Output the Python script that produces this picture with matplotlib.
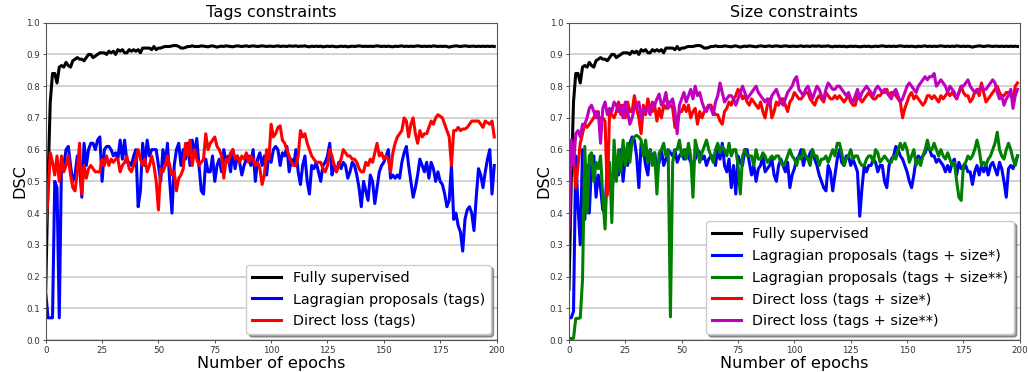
import matplotlib
matplotlib.use("Agg")
import matplotlib.pyplot as plt
import numpy as np

epochs = list(range(200))

fully_supervised = [
    0.16, 0.50, 0.75, 0.84, 0.84, 0.81, 0.86, 0.865, 0.86, 0.875,
    0.865, 0.86, 0.88, 0.885, 0.89, 0.885, 0.885, 0.88, 0.89, 0.90,
    0.90, 0.89, 0.895, 0.90, 0.905, 0.905, 0.905, 0.90, 0.91, 0.905,
    0.91, 0.90, 0.915, 0.91, 0.915, 0.905, 0.905, 0.915, 0.91, 0.915,
    0.91, 0.915, 0.905, 0.92, 0.92, 0.92, 0.92, 0.915, 0.925, 0.915,
    0.92, 0.92, 0.923, 0.925, 0.925, 0.925, 0.927, 0.928, 0.928, 0.925,
    0.92, 0.92, 0.922, 0.925, 0.925, 0.927, 0.925, 0.925, 0.925, 0.927,
    0.926, 0.925, 0.924, 0.926, 0.927, 0.925, 0.923, 0.925, 0.926, 0.925,
    0.927, 0.926, 0.925, 0.924, 0.926, 0.927, 0.926, 0.925, 0.926, 0.927,
    0.925, 0.926, 0.927, 0.926, 0.925, 0.926, 0.927, 0.926, 0.925, 0.926,
    0.926, 0.925, 0.926, 0.927, 0.925, 0.926, 0.926, 0.925, 0.927, 0.926,
    0.926, 0.927, 0.925, 0.926, 0.926, 0.927, 0.925, 0.924, 0.926, 0.925,
    0.926, 0.925, 0.926, 0.924, 0.925, 0.926, 0.925, 0.926, 0.925, 0.924,
    0.925, 0.926, 0.925, 0.926, 0.924, 0.925, 0.926, 0.925, 0.926, 0.927,
    0.926, 0.925, 0.926, 0.925, 0.926, 0.925, 0.926, 0.927, 0.926, 0.925,
    0.926, 0.925, 0.926, 0.925, 0.924, 0.926, 0.925, 0.926, 0.927, 0.925,
    0.926, 0.925, 0.926, 0.925, 0.926, 0.927, 0.926, 0.925, 0.926, 0.925,
    0.926, 0.925, 0.927, 0.926, 0.925, 0.926, 0.925, 0.926, 0.925, 0.923,
    0.925, 0.926, 0.927, 0.926, 0.925, 0.926, 0.927, 0.926, 0.925, 0.926,
    0.926, 0.925, 0.926, 0.925, 0.926, 0.925, 0.926, 0.925, 0.926, 0.925,
]

lagr_tags = [
    0.15, 0.07, 0.07, 0.07, 0.50, 0.48, 0.07, 0.57, 0.55, 0.60,
    0.61, 0.55, 0.50, 0.52, 0.58, 0.55, 0.45, 0.62, 0.55, 0.60,
    0.62, 0.62, 0.60, 0.63, 0.64, 0.50, 0.60, 0.61, 0.61, 0.60,
    0.58, 0.59, 0.57, 0.63, 0.57, 0.63, 0.56, 0.56, 0.55, 0.58,
    0.60, 0.42, 0.47, 0.62, 0.55, 0.63, 0.58, 0.60, 0.60, 0.60,
    0.55, 0.50, 0.60, 0.55, 0.62, 0.50, 0.40, 0.55, 0.60, 0.62,
    0.55, 0.60, 0.57, 0.62, 0.55, 0.63, 0.58, 0.635, 0.55, 0.47,
    0.46, 0.57, 0.53, 0.53, 0.58, 0.50, 0.55, 0.57, 0.53, 0.60,
    0.56, 0.58, 0.53, 0.60, 0.54, 0.58, 0.56, 0.52, 0.55, 0.57,
    0.58, 0.55, 0.60, 0.50, 0.57, 0.59, 0.55, 0.58, 0.52, 0.59,
    0.56, 0.60, 0.61, 0.60, 0.55, 0.59, 0.58, 0.61, 0.53, 0.57,
    0.55, 0.60, 0.53, 0.49, 0.55, 0.58, 0.50, 0.46, 0.55, 0.54,
    0.56, 0.53, 0.50, 0.55, 0.56, 0.58, 0.62, 0.52, 0.55, 0.53,
    0.56, 0.54, 0.56, 0.55, 0.51, 0.53, 0.56, 0.55, 0.52, 0.48,
    0.42, 0.50, 0.47, 0.44, 0.52, 0.50, 0.43, 0.48, 0.53, 0.55,
    0.56, 0.58, 0.60, 0.51, 0.52, 0.51, 0.52, 0.51, 0.56, 0.59,
    0.61, 0.55, 0.50, 0.45, 0.48, 0.52, 0.57, 0.55, 0.53, 0.56,
    0.51, 0.56, 0.54, 0.50, 0.53, 0.50, 0.49, 0.46, 0.42, 0.44,
    0.55, 0.38, 0.40, 0.36, 0.34, 0.28, 0.38, 0.41, 0.42, 0.40,
    0.345, 0.45, 0.54, 0.52, 0.48, 0.53, 0.57, 0.60, 0.46, 0.55,
]

direct_tags = [
    0.36, 0.45, 0.59, 0.56, 0.52, 0.58, 0.50, 0.58, 0.53, 0.55,
    0.58, 0.52, 0.48, 0.47, 0.53, 0.62, 0.46, 0.55, 0.51, 0.54,
    0.55, 0.54, 0.53, 0.53, 0.53, 0.57, 0.55, 0.58, 0.55, 0.57,
    0.56, 0.57, 0.57, 0.53, 0.55, 0.56, 0.58, 0.54, 0.53, 0.55,
    0.57, 0.60, 0.57, 0.55, 0.57, 0.53, 0.55, 0.58, 0.55, 0.50,
    0.41, 0.54, 0.53, 0.55, 0.58, 0.55, 0.52, 0.53, 0.47, 0.51,
    0.52, 0.54, 0.62, 0.58, 0.63, 0.55, 0.60, 0.57, 0.55, 0.56,
    0.57, 0.65, 0.60, 0.62, 0.63, 0.64, 0.61, 0.60, 0.58, 0.51,
    0.57, 0.56, 0.59, 0.60, 0.57, 0.58, 0.56, 0.58, 0.57, 0.59,
    0.56, 0.58, 0.57, 0.55, 0.56, 0.54, 0.49, 0.52, 0.60, 0.57,
    0.68, 0.64, 0.65, 0.67, 0.675, 0.63, 0.62, 0.60, 0.58, 0.56,
    0.55, 0.55, 0.58, 0.66, 0.64, 0.65, 0.62, 0.60, 0.58, 0.57,
    0.56, 0.56, 0.56, 0.54, 0.53, 0.55, 0.60, 0.58, 0.55, 0.53,
    0.55, 0.57, 0.60, 0.59, 0.58, 0.58, 0.57, 0.57, 0.56, 0.54,
    0.53, 0.53, 0.56, 0.55, 0.57, 0.56, 0.59, 0.62, 0.58, 0.59,
    0.57, 0.58, 0.57, 0.53, 0.59, 0.62, 0.64, 0.65, 0.66, 0.70,
    0.69, 0.64, 0.68, 0.70, 0.65, 0.62, 0.66, 0.64, 0.65, 0.65,
    0.67, 0.69, 0.68, 0.70, 0.71, 0.705, 0.70, 0.68, 0.66, 0.64,
    0.55, 0.66, 0.66, 0.67, 0.66, 0.665, 0.665, 0.67, 0.68, 0.69,
    0.69, 0.69, 0.69, 0.68, 0.67, 0.69, 0.685, 0.68, 0.69, 0.64,
]

lagr_size1 = [
    0.07, 0.07, 0.09, 0.58, 0.42, 0.30, 0.60, 0.38, 0.55, 0.40,
    0.55, 0.58, 0.45, 0.52, 0.48, 0.41, 0.40, 0.56, 0.50, 0.46,
    0.55, 0.55, 0.52, 0.60, 0.50, 0.58, 0.55, 0.62, 0.64, 0.63,
    0.58, 0.48, 0.62, 0.60, 0.55, 0.52, 0.60, 0.57, 0.59, 0.54,
    0.56, 0.60, 0.55, 0.57, 0.60, 0.59, 0.58, 0.60, 0.56, 0.58,
    0.59, 0.57, 0.60, 0.58, 0.56, 0.56, 0.57, 0.60, 0.59, 0.57,
    0.58, 0.55, 0.57, 0.58, 0.58, 0.55, 0.60, 0.57, 0.62, 0.55,
    0.53, 0.57, 0.48, 0.55, 0.46, 0.58, 0.56, 0.55, 0.60, 0.60,
    0.56, 0.52, 0.55, 0.50, 0.54, 0.55, 0.58, 0.53, 0.54, 0.55,
    0.57, 0.52, 0.50, 0.55, 0.57, 0.55, 0.53, 0.56, 0.48, 0.52,
    0.54, 0.57, 0.58, 0.60, 0.55, 0.58, 0.57, 0.59, 0.60, 0.57,
    0.55, 0.52, 0.50, 0.48, 0.47, 0.55, 0.53, 0.47, 0.52, 0.57,
    0.60, 0.56, 0.55, 0.58, 0.58, 0.55, 0.57, 0.55, 0.53, 0.39,
    0.48, 0.55, 0.53, 0.55, 0.55, 0.57, 0.56, 0.53, 0.55, 0.55,
    0.50, 0.48, 0.55, 0.57, 0.58, 0.61, 0.60, 0.58, 0.57, 0.55,
    0.53, 0.50, 0.48, 0.52, 0.57, 0.58, 0.57, 0.58, 0.59, 0.61,
    0.60, 0.58, 0.58, 0.56, 0.57, 0.56, 0.55, 0.53, 0.55, 0.53,
    0.56, 0.57, 0.52, 0.56, 0.54, 0.54, 0.55, 0.53, 0.53, 0.49,
    0.53, 0.55, 0.52, 0.55, 0.53, 0.55, 0.52, 0.55, 0.56, 0.54,
    0.52, 0.56, 0.54, 0.50, 0.45, 0.54, 0.55, 0.54, 0.56, 0.58,
]

lagr_size2 = [
    0.005, 0.005, 0.005, 0.068, 0.068, 0.07, 0.19, 0.61, 0.40, 0.58,
    0.59, 0.50, 0.56, 0.54, 0.58, 0.45, 0.35, 0.55, 0.56, 0.37,
    0.63, 0.50, 0.60, 0.53, 0.63, 0.55, 0.62, 0.56, 0.63, 0.64,
    0.645, 0.64, 0.63, 0.58, 0.63, 0.56, 0.60, 0.55, 0.59, 0.46,
    0.59, 0.60, 0.62, 0.58, 0.60, 0.073, 0.56, 0.60, 0.60, 0.63,
    0.58, 0.60, 0.57, 0.62, 0.58, 0.45, 0.63, 0.60, 0.56, 0.59,
    0.61, 0.63, 0.60, 0.58, 0.56, 0.60, 0.62, 0.59, 0.61, 0.60,
    0.58, 0.62, 0.58, 0.60, 0.60, 0.55, 0.46, 0.58, 0.60, 0.58,
    0.58, 0.58, 0.55, 0.60, 0.57, 0.57, 0.59, 0.58, 0.56, 0.57,
    0.58, 0.57, 0.58, 0.58, 0.56, 0.55, 0.56, 0.58, 0.60, 0.58,
    0.57, 0.55, 0.58, 0.57, 0.60, 0.58, 0.57, 0.55, 0.60, 0.58,
    0.58, 0.55, 0.57, 0.57, 0.58, 0.56, 0.58, 0.60, 0.58, 0.62,
    0.62, 0.59, 0.55, 0.57, 0.58, 0.60, 0.57, 0.58, 0.58, 0.56,
    0.55, 0.55, 0.57, 0.58, 0.58, 0.56, 0.60, 0.59, 0.56, 0.57,
    0.58, 0.57, 0.56, 0.56, 0.58, 0.57, 0.60, 0.62, 0.60, 0.62,
    0.60, 0.56, 0.58, 0.60, 0.55, 0.57, 0.55, 0.58, 0.60, 0.63,
    0.60, 0.60, 0.62, 0.60, 0.58, 0.60, 0.58, 0.57, 0.59, 0.57,
    0.55, 0.56, 0.50, 0.45, 0.44, 0.55, 0.56, 0.58, 0.57, 0.58,
    0.60, 0.63, 0.60, 0.55, 0.56, 0.55, 0.57, 0.58, 0.60, 0.62,
    0.655, 0.60, 0.58, 0.57, 0.60, 0.62, 0.60, 0.57, 0.55, 0.58,
]

direct_size1 = [
    0.56, 0.60, 0.58, 0.48, 0.55, 0.62, 0.65, 0.68, 0.67, 0.68,
    0.69, 0.70, 0.72, 0.70, 0.70, 0.70, 0.69, 0.456, 0.72, 0.71,
    0.70, 0.72, 0.75, 0.71, 0.74, 0.70, 0.75, 0.72, 0.72, 0.77,
    0.73, 0.70, 0.65, 0.74, 0.71, 0.76, 0.73, 0.72, 0.74, 0.69,
    0.73, 0.70, 0.74, 0.73, 0.75, 0.74, 0.73, 0.67, 0.68, 0.72,
    0.72, 0.74, 0.72, 0.74, 0.70, 0.72, 0.73, 0.68, 0.72, 0.70,
    0.72, 0.73, 0.74, 0.74, 0.72, 0.71, 0.71, 0.69, 0.68, 0.72,
    0.73, 0.75, 0.74, 0.76, 0.77, 0.79, 0.78, 0.76, 0.77, 0.75,
    0.74, 0.76, 0.75, 0.74, 0.73, 0.75, 0.72, 0.70, 0.74, 0.76,
    0.70, 0.72, 0.75, 0.74, 0.76, 0.76, 0.74, 0.72, 0.75, 0.76,
    0.78, 0.77, 0.76, 0.76, 0.77, 0.78, 0.78, 0.76, 0.75, 0.74,
    0.76, 0.77, 0.76, 0.75, 0.78, 0.77, 0.76, 0.76, 0.77, 0.76,
    0.77, 0.76, 0.75, 0.76, 0.77, 0.75, 0.74, 0.74, 0.77, 0.76,
    0.75, 0.76, 0.77, 0.78, 0.77, 0.76, 0.76, 0.77, 0.77, 0.78,
    0.78, 0.79, 0.77, 0.78, 0.78, 0.77, 0.76, 0.75, 0.70, 0.73,
    0.75, 0.77, 0.78, 0.76, 0.77, 0.76, 0.75, 0.74, 0.75, 0.77,
    0.77, 0.76, 0.77, 0.76, 0.75, 0.77, 0.76, 0.77, 0.78, 0.77,
    0.78, 0.77, 0.76, 0.78, 0.80, 0.78, 0.77, 0.77, 0.75, 0.76,
    0.78, 0.79, 0.77, 0.81, 0.78, 0.75, 0.76, 0.77, 0.78, 0.79,
    0.80, 0.78, 0.77, 0.77, 0.78, 0.78, 0.77, 0.76, 0.80, 0.81,
]

direct_size2 = [
    0.35, 0.63, 0.55, 0.65, 0.66, 0.64, 0.68, 0.68, 0.70, 0.73,
    0.74, 0.72, 0.70, 0.72, 0.62, 0.73, 0.75, 0.71, 0.73, 0.72,
    0.75, 0.74, 0.72, 0.74, 0.70, 0.75, 0.72, 0.68, 0.70, 0.73,
    0.74, 0.75, 0.70, 0.73, 0.72, 0.73, 0.71, 0.75, 0.74, 0.76,
    0.775, 0.74, 0.75, 0.78, 0.73, 0.75, 0.76, 0.72, 0.65, 0.74,
    0.76, 0.78, 0.75, 0.77, 0.79, 0.76, 0.80, 0.77, 0.78, 0.75,
    0.73, 0.72, 0.74, 0.73, 0.71, 0.75, 0.77, 0.81, 0.78, 0.75,
    0.76, 0.77, 0.77, 0.76, 0.74, 0.76, 0.78, 0.80, 0.78, 0.76,
    0.77, 0.78, 0.79, 0.80, 0.78, 0.77, 0.76, 0.75, 0.76, 0.74,
    0.77, 0.78, 0.79, 0.77, 0.75, 0.74, 0.76, 0.78, 0.79, 0.80,
    0.82, 0.83, 0.79, 0.78, 0.77, 0.79, 0.80, 0.78, 0.76, 0.78,
    0.80, 0.79, 0.77, 0.76, 0.79, 0.81, 0.80, 0.79, 0.79, 0.80,
    0.80, 0.79, 0.78, 0.77, 0.78, 0.76, 0.75, 0.77, 0.79, 0.76,
    0.78, 0.79, 0.80, 0.79, 0.78, 0.77, 0.79, 0.80, 0.79, 0.78,
    0.79, 0.78, 0.77, 0.76, 0.78, 0.79, 0.77, 0.75, 0.76, 0.78,
    0.80, 0.81, 0.80, 0.79, 0.78, 0.80, 0.81, 0.82, 0.83, 0.82,
    0.83, 0.83, 0.84, 0.80, 0.81, 0.82, 0.81, 0.80, 0.78, 0.80,
    0.79, 0.78, 0.76, 0.78, 0.80, 0.80, 0.81, 0.82, 0.80, 0.79,
    0.78, 0.78, 0.79, 0.80, 0.79, 0.79, 0.80, 0.81, 0.82, 0.81,
    0.78, 0.76, 0.77, 0.74, 0.76, 0.77, 0.79, 0.73, 0.77, 0.79,
]

titles = ["Tags constraints", "Size constraints"]
left_series = [
    ("Fully supervised", fully_supervised, "k"),
    ("Lagragian proposals (tags)", lagr_tags, "b"),
    ("Direct loss (tags)", direct_tags, "r"),
]
right_series = [
    ("Fully supervised", fully_supervised, "k"),
    ("Lagragian proposals (tags + size*)", lagr_size1, "b"),
    ("Lagragian proposals (tags + size**)", lagr_size2, "g"),
    ("Direct loss (tags + size*)", direct_size1, "r"),
    ("Direct loss (tags + size**)", direct_size2, "m"),
]
y_ticks = [0.0, 0.1, 0.2, 0.3, 0.4, 0.5, 0.6, 0.7, 0.8, 0.9, 1.0]
x_ticks = [0, 25, 50, 75, 100, 125, 150, 175, 200]

fig = plt.figure(figsize=(10.28, 3.72), dpi=100)
ax1 = fig.add_axes([0.0445, 0.086, 0.4385, 0.853])
ax2 = fig.add_axes([0.5535, 0.086, 0.4385, 0.853])

for ax, title, series in [(ax1, titles[0], left_series), (ax2, titles[1], right_series)]:
    for label, vals, col in series:
        ax.plot(epochs, vals, color=col, lw=2.2, label=label)
    ax.set_xlim(0, 200)
    ax.set_ylim(0, 1.0)
    ax.set_xticks(x_ticks)
    ax.set_yticks(y_ticks)
    ax.set_yticklabels([f"{t:.1f}" for t in y_ticks])
    ax.yaxis.grid(True, color="#cccccc", lw=1.2)
    ax.set_axisbelow(True)
    ax.tick_params(labelsize=6.3, length=2.5, width=0.6, colors="#333333", pad=1.5)
    for sp in ax.spines.values():
        sp.set_color("#555555")
        sp.set_linewidth(0.8)
    ax.set_title(title, fontsize=11.6, pad=4)
    ax.set_xlabel("Number of epochs", fontsize=11.6, labelpad=1)
    ax.set_ylabel("DSC", fontsize=11.6, labelpad=-1)
    leg = ax.legend(loc="lower right", fontsize=10.4, shadow=True, fancybox=True,
                    framealpha=1.0, borderaxespad=0.4, handlelength=2.0,
                    labelspacing=0.55, borderpad=0.4)
    leg.get_frame().set_edgecolor("#cccccc")

fig.savefig("out.png", dpi=100)
